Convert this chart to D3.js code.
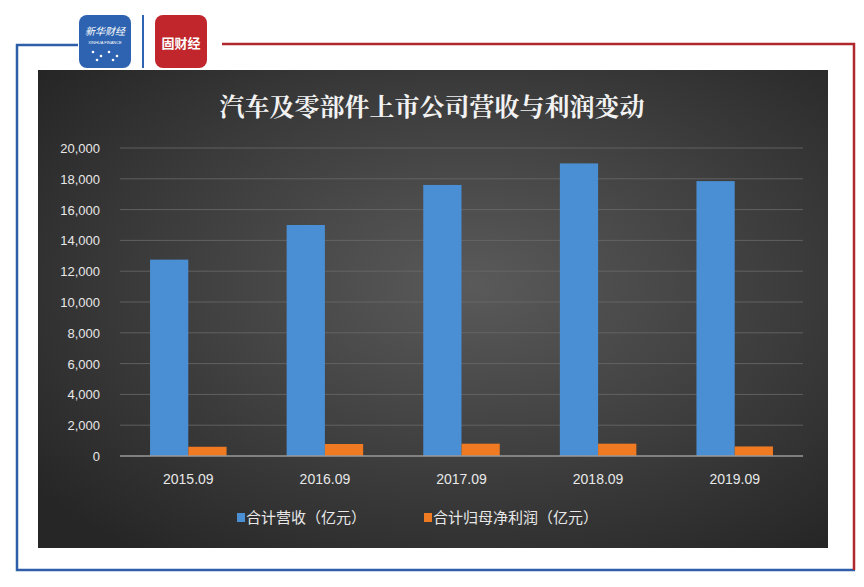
<!DOCTYPE html>
<html><head><meta charset="utf-8">
<script src="https://cdn.jsdelivr.net/npm/d3@7"></script>
<style>body{margin:0;background:#fff}svg{display:block}</style>
</head><body>
<script>
const categories = ["2015.09","2016.09","2017.09","2018.09","2019.09"];
const revenue = [12750, 15000, 17600, 19000, 17850];
const profit = [600, 780, 800, 800, 620];
const yTicks = [0,2000,4000,6000,8000,10000,12000,14000,16000,18000,20000];
const seriesNames = ["合计营收（亿元）","合计归母净利润（亿元）"];
const colors = ["#4a8fd4","#f07a22"];

const W=864,H=587;
const svg=d3.select("body").append("svg").attr("width",W).attr("height",H);
const defs=svg.append("defs");
const g=defs.append("radialGradient").attr("id","bg").attr("cx","55%").attr("cy","45%").attr("r","70%");
g.append("stop").attr("offset","0%").attr("stop-color","#5a5a5a");
g.append("stop").attr("offset","100%").attr("stop-color","#262626");

// frame
svg.append("path").attr("d","M78,45 H17 V570 H855").attr("fill","none").attr("stroke","#2f5ea8").attr("stroke-width",2.5);
svg.append("path").attr("d","M222,44 H854 V570").attr("fill","none").attr("stroke","#b0282c").attr("stroke-width",2.5);
// logos
svg.append("rect").attr("x",79).attr("y",15).attr("width",52).attr("height",53).attr("rx",8).attr("fill","#2d63b0");
svg.append("text").attr("x",105).attr("y",35).attr("text-anchor","middle").attr("fill","#fff").attr("font-size",10).attr("font-style","italic").attr("font-family","Noto Sans CJK SC").text("新华财经");
svg.append("text").attr("x",105).attr("y",44).attr("text-anchor","middle").attr("fill","#fff").attr("font-size",4).attr("font-family","Liberation Sans").text("XINHUA FINANCE");
[[93,52],[101,56],[109,52],[117,56],[97,60],[113,60]].forEach(p=>svg.append("circle").attr("cx",p[0]).attr("cy",p[1]).attr("r",1.3).attr("fill","#fff"));
svg.append("rect").attr("x",142).attr("y",15).attr("width",2).attr("height",53).attr("fill","#2d63b0");
svg.append("rect").attr("x",155).attr("y",15).attr("width",52).attr("height",53).attr("rx",8).attr("fill","#c0262b");
svg.append("text").attr("x",181).attr("y",48).attr("text-anchor","middle").attr("fill","#fff").attr("font-size",13).attr("font-weight","bold").attr("font-family","Noto Sans CJK SC").text("固财经");

// panel
svg.append("rect").attr("x",38).attr("y",70).attr("width",790).attr("height",478).attr("fill","url(#bg)");
svg.append("text").attr("x",432).attr("y",116).attr("text-anchor","middle").attr("fill","#f2f2f2").attr("font-size",25).attr("font-weight","bold").attr("font-family","Noto Serif CJK SC, Noto Sans CJK SC").text("汽车及零部件上市公司营收与利润变动");

const x=d3.scaleBand().domain(categories).range([120,803]).paddingInner(0.44).paddingOuter(0.22);
const y=d3.scaleLinear().domain([0,20000]).range([456,148]);
const grid=svg.append("g");
yTicks.forEach(t=>{
  if(t>0) grid.append("line").attr("x1",120).attr("x2",803).attr("y1",y(t)).attr("y2",y(t)).attr("stroke","#6a6a6a").attr("stroke-width",0.8);
  grid.append("text").attr("x",100).attr("y",y(t)+5).attr("text-anchor","end").attr("fill","#e8e8e8").attr("font-size",13).attr("font-family","Liberation Sans Narrow, Liberation Sans").text(d3.format(",")(t));
});
const bw=x.bandwidth()/2;
svg.selectAll(".r").data(revenue).enter().append("rect").attr("x",(d,i)=>x(categories[i])).attr("y",d=>y(d)).attr("width",bw).attr("height",d=>y(0)-y(d)).attr("fill",colors[0]);
svg.selectAll(".p").data(profit).enter().append("rect").attr("x",(d,i)=>x(categories[i])+bw).attr("y",d=>y(d)).attr("width",bw).attr("height",d=>y(0)-y(d)).attr("fill",colors[1]);
svg.append("line").attr("x1",120).attr("x2",803).attr("y1",y(0)).attr("y2",y(0)).attr("stroke","#9a9a9a").attr("stroke-width",1.5);
categories.forEach(c=>svg.append("text").attr("x",x(c)+x.bandwidth()/2).attr("y",484).attr("text-anchor","middle").attr("fill","#e8e8e8").attr("font-size",14).attr("font-family","Liberation Sans Narrow, Liberation Sans").text(c));

// legend
const lx=[237,424];
seriesNames.forEach((n,i)=>{
  svg.append("rect").attr("x",lx[i]).attr("y",513).attr("width",8).attr("height",9).attr("fill",colors[i]);
  svg.append("text").attr("x",lx[i]+9).attr("y",523).attr("fill","#e8e8e8").attr("font-size",15).attr("font-family","Noto Sans CJK SC").text(n);
});
</script>
</body></html>
